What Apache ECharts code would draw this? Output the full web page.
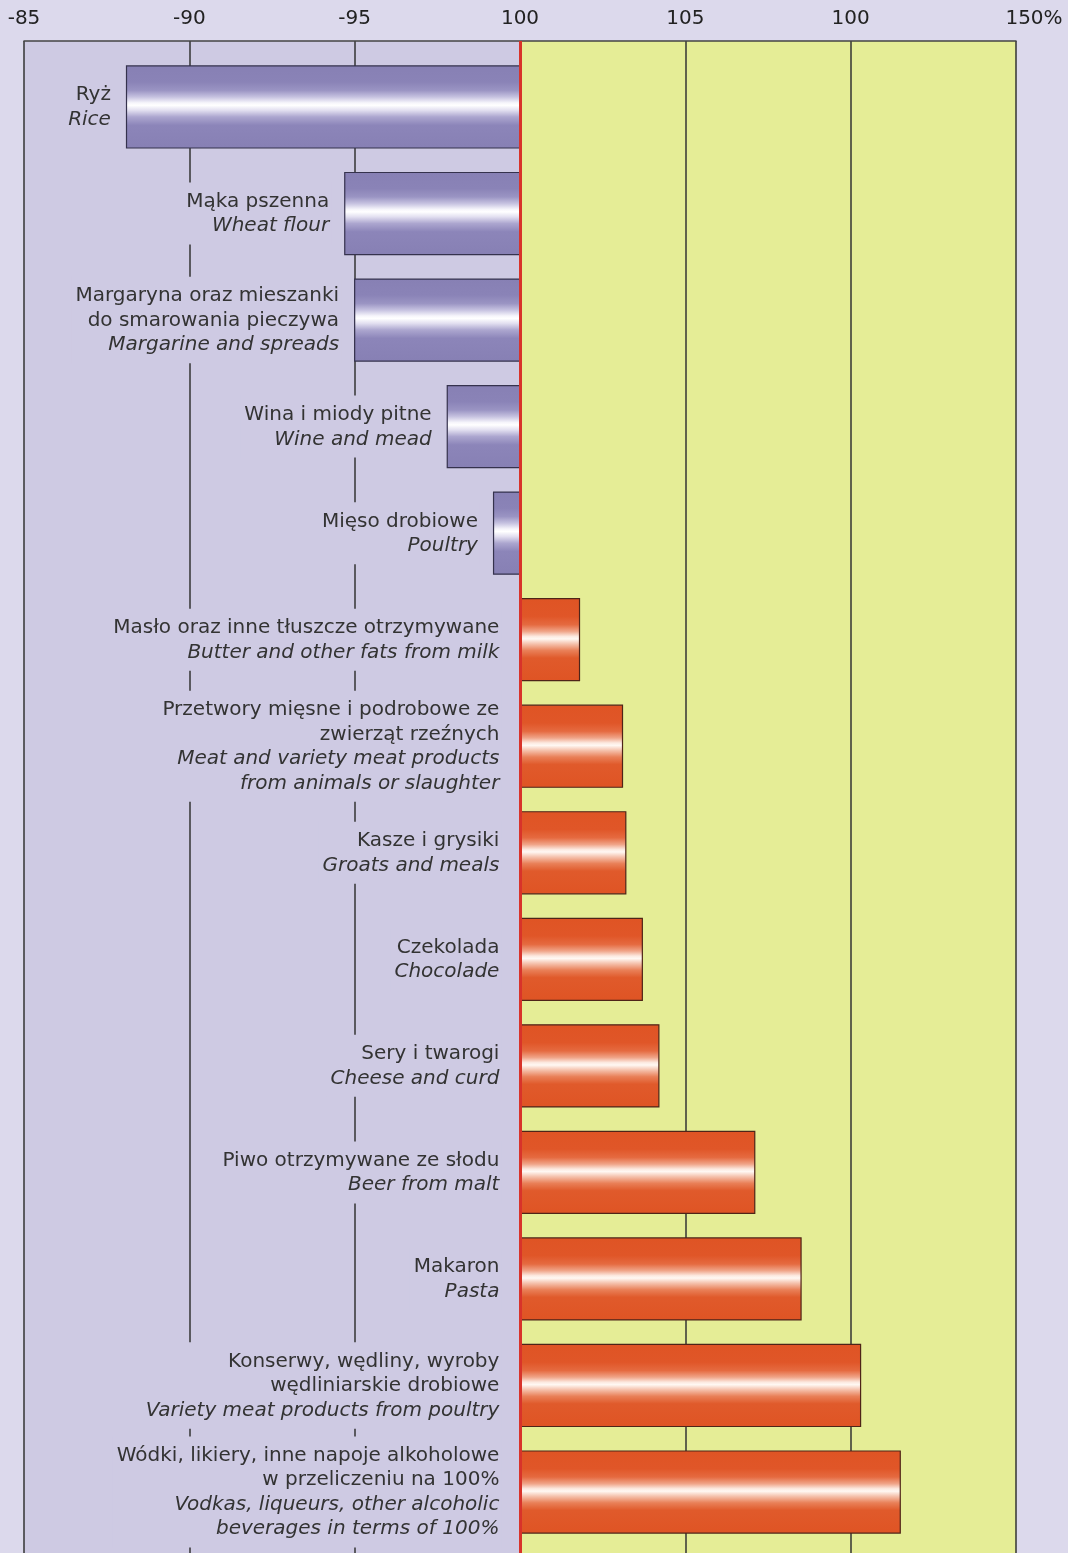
<!DOCTYPE html>
<html>
<head>
<meta charset="utf-8">
<script src="https://cdn.jsdelivr.net/npm/echarts@6/dist/echarts.min.js"></script>
<style>
html,body{margin:0;padding:0;background:#dcd9ec;}
#chart{width:1068px;height:1553px;}
</style>
</head>
<body>
<div id="chart"></div>
<script>
// ---- data ----
const categoriesPL = [
  'Ryż',
  'Mąka pszenna',
  'Margaryna oraz mieszanki\ndo smarowania pieczywa',
  'Wina i miody pitne',
  'Mięso drobiowe',
  'Masło oraz inne tłuszcze otrzymywane',
  'Przetwory mięsne i podrobowe ze\nzwierząt rzeźnych',
  'Kasze i grysiki',
  'Czekolada',
  'Sery i twarogi',
  'Piwo otrzymywane ze słodu',
  'Makaron',
  'Konserwy, wędliny, wyroby\nwędliniarskie drobiowe',
  'Wódki, likiery, inne napoje alkoholowe\nw przeliczeniu na 100%'
];
const categoriesEN = [
  'Rice',
  'Wheat flour',
  'Margarine and spreads',
  'Wine and mead',
  'Poultry',
  'Butter and other fats from milk',
  'Meat and variety meat products\nfrom animals or slaughter',
  'Groats and meals',
  'Chocolade',
  'Cheese and curd',
  'Beer from malt',
  'Pasta',
  'Variety meat products from poultry',
  'Vodkas, liqueurs, other alcoholic\nbeverages in terms of 100%'
];
const values = [88.1, 94.7, 95.0, 97.8, 99.2, 101.8, 103.1, 103.2, 103.7, 104.2, 107.1, 108.5, 110.3, 111.5];
const tickLabels = ['-85', '-90', '-95', '100', '105', '100', '150%'];
const baseValue = 100;

// ---- styles ----
const FONT = '"DejaVu Sans", "Liberation Sans", Arial, sans-serif';
const LEFT_BG = '#cecae3';
const RIGHT_BG = '#e5ed96';
const TEXT_COLOR = '#161616';

function labelText(i) {
  const pl = categoriesPL[i].split('\n').map(s => '{pl|' + s + '}');
  const en = categoriesEN[i].split('\n').map(s => '{en|' + s + '}');
  return pl.concat(en).join('\n');
}

const purpleGrad = () => new echarts.graphic.LinearGradient(0, 0, 0, 1, [
  {offset: 0, color: '#8780b4'},
  {offset: 0.2, color: '#8a83b7'},
  {offset: 0.3, color: '#9a94c3'},
  {offset: 0.38, color: '#c6c2e0'},
  {offset: 0.45, color: '#f6f5fb'},
  {offset: 0.48, color: '#ffffff'},
  {offset: 0.54, color: '#e2dff0'},
  {offset: 0.62, color: '#aca6cf'},
  {offset: 0.72, color: '#8c85b9'},
  {offset: 1, color: '#8780b4'}
]);
const orangeGrad = () => new echarts.graphic.LinearGradient(0, 0, 0, 1, [
  {offset: 0, color: '#df5424'},
  {offset: 0.22, color: '#e05628'},
  {offset: 0.32, color: '#e56a40'},
  {offset: 0.4, color: '#f0a488'},
  {offset: 0.46, color: '#fce9e0'},
  {offset: 0.49, color: '#fff8f3'},
  {offset: 0.55, color: '#f5c2ad'},
  {offset: 0.63, color: '#e98058'},
  {offset: 0.72, color: '#e05a2b'},
  {offset: 1, color: '#df5424'}
]);

const chart = echarts.init(document.getElementById('chart'), null, {renderer: 'canvas'});

const option = {
  backgroundColor: '#dcd9ec',
  animation: false,
  grid: [
    {left: 24, right: 52, top: 53.7, height: 1491.6},
    {left: 24, right: 52, top: 41, height: 1540}
  ],
  xAxis: [
    {gridIndex: 0, type: 'value', min: 85, max: 115, interval: 5, show: false},
    {
      gridIndex: 1, type: 'value', min: 85, max: 115, interval: 5, position: 'top',
      axisLine: {show: true, onZero: false, lineStyle: {color: '#444', width: 1.5}},
      axisTick: {show: false},
      axisLabel: {
        show: true, margin: 12, color: '#222', fontFamily: FONT, fontSize: 20,
        showMinLabel: true, showMaxLabel: true,
        formatter: function (v) {
          const idx = Math.round((v - 85) / 5);
          const t = tickLabels[idx];
          return idx === tickLabels.length - 1 ? '{last|' + t + '}' : t;
        },
        rich: {last: {fontFamily: FONT, fontSize: 20, color: '#222', padding: [0, 0, 0, 36]}}
      },
      splitLine: {show: true, lineStyle: {color: '#333', width: 1.5}},
      splitArea: {show: true, areaStyle: {color: [LEFT_BG, LEFT_BG, LEFT_BG, RIGHT_BG, RIGHT_BG, RIGHT_BG], opacity: 1}}
    }
  ],
  yAxis: [
    {gridIndex: 0, type: 'category', inverse: true, data: categoriesPL.map((_, i) => i), show: false},
    {gridIndex: 1, type: 'value', min: 0, max: 1, show: false}
  ],
  series: [
    {
      type: 'custom',
      xAxisIndex: 0, yAxisIndex: 0,
      z: 3,
      clip: false,
      data: values.map((v, i) => [v, i]),
      encode: {x: 0, y: 1},
      renderItem: function (params, api) {
        const v = api.value(0);
        const i = api.value(1);
        const p0 = api.coord([baseValue, i]);
        const p1 = api.coord([v, i]);
        const band = api.size([0, 1])[1];
        const h = band * 0.77;
        const x = Math.min(p0[0], p1[0]);
        const w = Math.abs(p1[0] - p0[0]);
        const neg = v < baseValue;
        return {
          type: 'rect',
          shape: {x: x, y: p0[1] - h / 2, width: w, height: h},
          style: {
            fill: neg ? purpleGrad() : orangeGrad(),
            stroke: neg ? '#35324d' : '#4e2418',
            lineWidth: 1.2
          },
          textContent: {
            type: 'text',
            style: {
              text: labelText(i),
              backgroundColor: LEFT_BG,
              padding: [7, 2, 6, 4],
              rich: {
                pl: {fontFamily: FONT, fontSize: 20, lineHeight: 24.5, color: TEXT_COLOR},
                en: {fontFamily: FONT, fontSize: 20, lineHeight: 24.5, color: TEXT_COLOR, fontStyle: 'italic'}
              }
            }
          },
          textConfig: {position: 'left', distance: neg ? 13 : 18}
        };
      }
    },
    {
      type: 'line',
      xAxisIndex: 1, yAxisIndex: 1,
      z: 6,
      data: [[baseValue, 0.5]],
      symbol: 'none',
      lineStyle: {opacity: 0},
      silent: true,
      markLine: {
        silent: true,
        symbol: ['none', 'none'],
        label: {show: false},
        lineStyle: {color: '#d8332a', width: 3, type: 'solid'},
        data: [{xAxis: baseValue}]
      }
    }
  ]
};
chart.setOption(option);
</script>
</body>
</html>
